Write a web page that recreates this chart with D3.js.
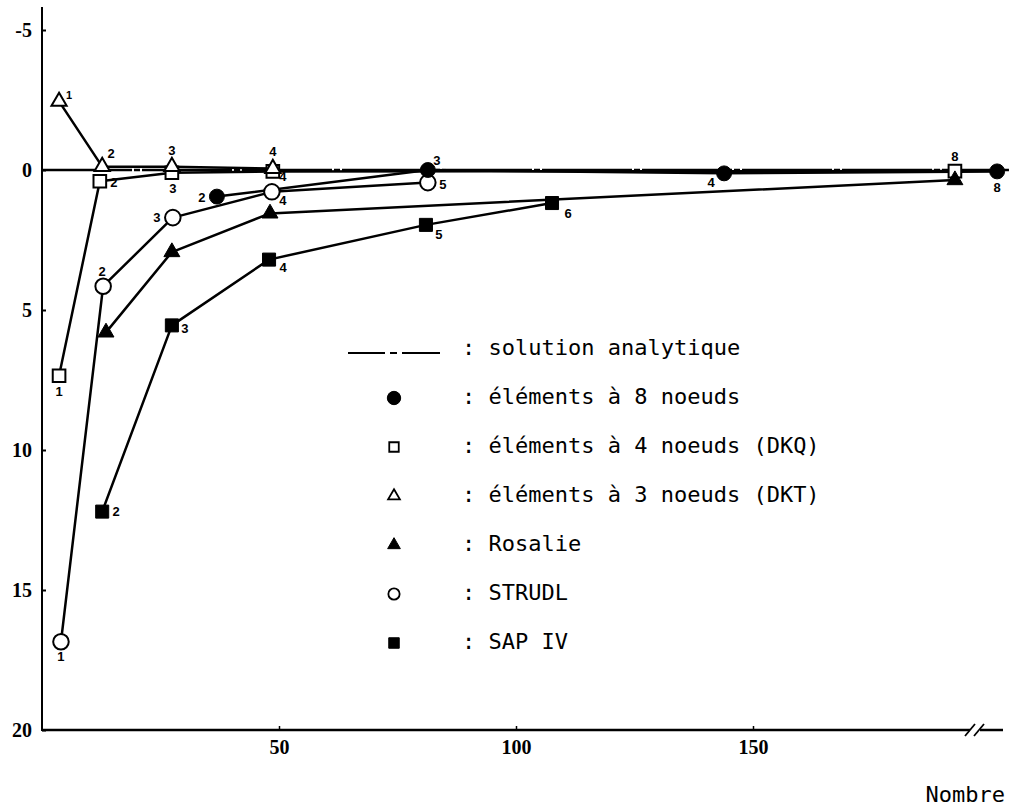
<!DOCTYPE html>
<html>
<head>
<meta charset="utf-8">
<script src="https://cdn.jsdelivr.net/npm/d3@7"></script>
<style>
  html, body { margin: 0; padding: 0; background: #fff; }
  svg { display: block; }
</style>
</head>
<body>
<svg id="chart" width="1017" height="809"></svg>
<script>
// ---------------- DATA ----------------
const yTickValues = [-5, 0, 5, 10, 15, 20];
const yTickLabels = ["-5", "0", "5", "10", "15", "20"];
const xTickValues = [50, 100, 150];
const xTickLabels = ["50", "100", "150"];
const xAxisTitle = "Nombre";

const analyticX = [0, 204];
const analyticY = [0, 0];

const q8X = [36.9, 81.4, 143.9, 201.5];
const q8Y = [0.95, 0.0, 0.12, 0.05];
const q8Labels = ["2", "3", "4", "8"];

const dkqX = [3.6, 12.2, 27.4, 48.7, 192.6];
const dkqY = [7.35, 0.4, 0.1, 0.05, 0.04];
const dkqLabels = ["1", "2", "3", "4", "8"];

const dktX = [3.6, 12.7, 27.4, 48.7];
const dktY = [-2.45, -0.12, -0.12, -0.05];
const dktLabels = ["1", "2", "3", "4"];

const rosX = [13.5, 27.4, 48.1, 192.6];
const rosY = [5.8, 2.93, 1.55, 0.36];
const rosLabels = ["", "", "", ""];

const strudlX = [4.0, 12.9, 27.6, 48.5, 81.4];
const strudlY = [16.85, 4.15, 1.7, 0.78, 0.45];
const strudlLabels = ["1", "2", "3", "4", "5"];

const sapX = [12.7, 27.4, 47.9, 81.0, 107.6];
const sapY = [12.2, 5.55, 3.2, 1.96, 1.18];
const sapLabels = ["2", "3", "4", "5", "6"];

const legendLabels = [
  ": solution analytique",
  ": éléments à 8 noeuds",
  ": éléments à 4 noeuds (DKQ)",
  ": éléments à 3 noeuds (DKT)",
  ": Rosalie",
  ": STRUDL",
  ": SAP IV"
];

// ---------------- DRAWING ----------------
const svg = d3.select("#chart");
const x = d3.scaleLinear().domain([0, 150]).range([42, 753]);
const y = d3.scaleLinear().domain([-5, 20]).range([30, 730]);

const zip = (xs, ys, ls) => xs.map((v, i) => ({x: v, y: ys[i], label: ls ? ls[i] : ""}));

const series = [
  {name: "strudl", pts: zip(strudlX, strudlY, strudlLabels), sym: d3.symbolCircle, size: 190, filled: false,
   off: [[0,15],[-1,-15],[-16,0],[11,9],[15,2]]},
  {name: "dkq", pts: zip(dkqX, dkqY, dkqLabels), sym: d3.symbolSquare, size: 160, filled: false,
   off: [[0,16],[14,1],[1,16],[10,5],[0,-15]]},
  {name: "dkt", pts: zip(dktX, dktY, dktLabels), sym: d3.symbolTriangle, size: 100, filled: false,
   off: [[10,-6],[9,-13],[0,-16],[0,-17]]},
  {name: "ros", pts: zip(rosX, rosY, rosLabels), sym: d3.symbolTriangle, size: 110, filled: true,
   off: [[0,0],[0,0],[0,0],[0,0]]},
  {name: "sap", pts: zip(sapX, sapY, sapLabels), sym: d3.symbolSquare, size: 170, filled: true,
   off: [[14,0],[13,3],[14,8],[13,10],[16,10]]},
  {name: "q8", pts: zip(q8X, q8Y, q8Labels), sym: d3.symbolCircle, size: 175, filled: true,
   off: [[-15,1],[9,-10],[-13,9],[0,16]]}
];

// axes
const yAxis = d3.axisLeft(y).tickValues(yTickValues).tickFormat((d, i) => yTickLabels[i]).tickSize(-4).tickSizeOuter(0);
const gy = svg.append("g").attr("transform", "translate(42,0)").call(yAxis);
gy.select(".domain").remove();
gy.selectAll(".tick line").attr("stroke", "#000").attr("stroke-width", 2);
gy.selectAll(".tick text").attr("x", -10)
  .style("font-family", "'Liberation Serif', serif").style("font-weight", "bold").style("font-size", "20px").attr("fill", "#000");
svg.append("line").attr("x1", 42).attr("x2", 42).attr("y1", 7).attr("y2", 731)
  .attr("stroke", "#000").attr("stroke-width", 2);

const xAxis = d3.axisBottom(x).tickValues(xTickValues).tickFormat((d, i) => xTickLabels[i]).tickSize(-4).tickSizeOuter(0);
const gx = svg.append("g").attr("transform", "translate(0,730)").call(xAxis);
gx.select(".domain").remove();
gx.selectAll(".tick line").attr("stroke", "#000").attr("stroke-width", 1.5);
gx.selectAll(".tick text").attr("y", 10)
  .style("font-family", "'Liberation Serif', serif").style("font-weight", "bold").style("font-size", "20px").attr("fill", "#000");
// x-axis line with break
svg.append("line").attr("x1", 42).attr("x2", 970).attr("y1", 730).attr("y2", 730)
  .attr("stroke", "#000").attr("stroke-width", 2.5);
svg.append("line").attr("x1", 980).attr("x2", 1003).attr("y1", 730).attr("y2", 730)
  .attr("stroke", "#000").attr("stroke-width", 2.5);
svg.append("line").attr("x1", 965).attr("x2", 975).attr("y1", 736).attr("y2", 724)
  .attr("stroke", "#000").attr("stroke-width", 1.8);
svg.append("line").attr("x1", 974).attr("x2", 984).attr("y1", 736).attr("y2", 724)
  .attr("stroke", "#000").attr("stroke-width", 1.8);

svg.append("text").attr("x", 1005).attr("y", 802).attr("text-anchor", "end")
  .style("font-family", "'DejaVu Sans Mono', monospace").style("font-size", "22px").text(xAxisTitle);

// analytic solution line
const line = d3.line().x(d => x(d.x)).y(d => y(d.y));
svg.append("path").datum(zip(analyticX, analyticY))
  .attr("d", line).attr("fill", "none").attr("stroke", "#000").attr("stroke-width", 2.5)
  .attr("stroke-dasharray", "90,2,6,2");

// series lines
series.forEach(s => {
  svg.append("path").datum(s.pts).attr("d", line)
    .attr("fill", "none").attr("stroke", "#000").attr("stroke-width", 2.5).attr("stroke-linejoin", "round");
});

// markers (open first, filled on top)
const ordered = series.filter(s => !s.filled).concat(series.filter(s => s.filled));
ordered.forEach(s => {
  const g = svg.append("g");
  g.selectAll("path").data(s.pts).join("path")
    .attr("d", d3.symbol().type(s.sym).size(s.size))
    .attr("transform", d => `translate(${x(d.x)},${y(d.y)})`)
    .attr("fill", s.filled ? "#000" : "#fff")
    .attr("stroke", "#000").attr("stroke-width", s.filled ? 1 : 2);
});

// point labels
series.forEach(s => {
  svg.append("g").selectAll("text").data(s.pts).join("text")
    .attr("x", (d, i) => x(d.x) + s.off[i][0])
    .attr("y", (d, i) => y(d.y) + s.off[i][1])
    .attr("text-anchor", "middle").attr("dominant-baseline", "central")
    .style("font-family", "'Liberation Sans', Arial, sans-serif").style("font-weight", "bold")
    .style("font-size", (d, i) => (s.name === "dkt" && i === 0) ? "11px" : "13px")
    .text(d => d.label);
});

// legend
const legTop = 355, legStep = 49, legMarkX = 394, legTextX = 462;
const legSyms = [null,
  {sym: d3.symbolCircle, size: 140, filled: true},
  {sym: d3.symbolSquare, size: 90, filled: false},
  {sym: d3.symbolTriangle, size: 60, filled: false},
  {sym: d3.symbolTriangle, size: 70, filled: true},
  {sym: d3.symbolCircle, size: 100, filled: false},
  {sym: d3.symbolSquare, size: 110, filled: true}
];
const leg = svg.append("g");
legendLabels.forEach((t, i) => {
  const by = legTop + i * legStep;
  leg.append("text").attr("x", legTextX).attr("y", by)
    .style("font-family", "'DejaVu Sans Mono', monospace").style("font-size", "22px").text(t);
  if (i === 0) {
    leg.append("line").attr("x1", 348).attr("x2", 440).attr("y1", by - 2).attr("y2", by - 2)
      .attr("stroke", "#000").attr("stroke-width", 1.8).attr("stroke-dasharray", "37,5,7,5,40");
  } else {
    const m = legSyms[i];
    leg.append("path").attr("d", d3.symbol().type(m.sym).size(m.size))
      .attr("transform", `translate(${legMarkX},${by - 6})`)
      .attr("fill", m.filled ? "#000" : "#fff").attr("stroke", "#000").attr("stroke-width", m.filled ? 1 : 1.8);
  }
});
</script>
</body>
</html>
